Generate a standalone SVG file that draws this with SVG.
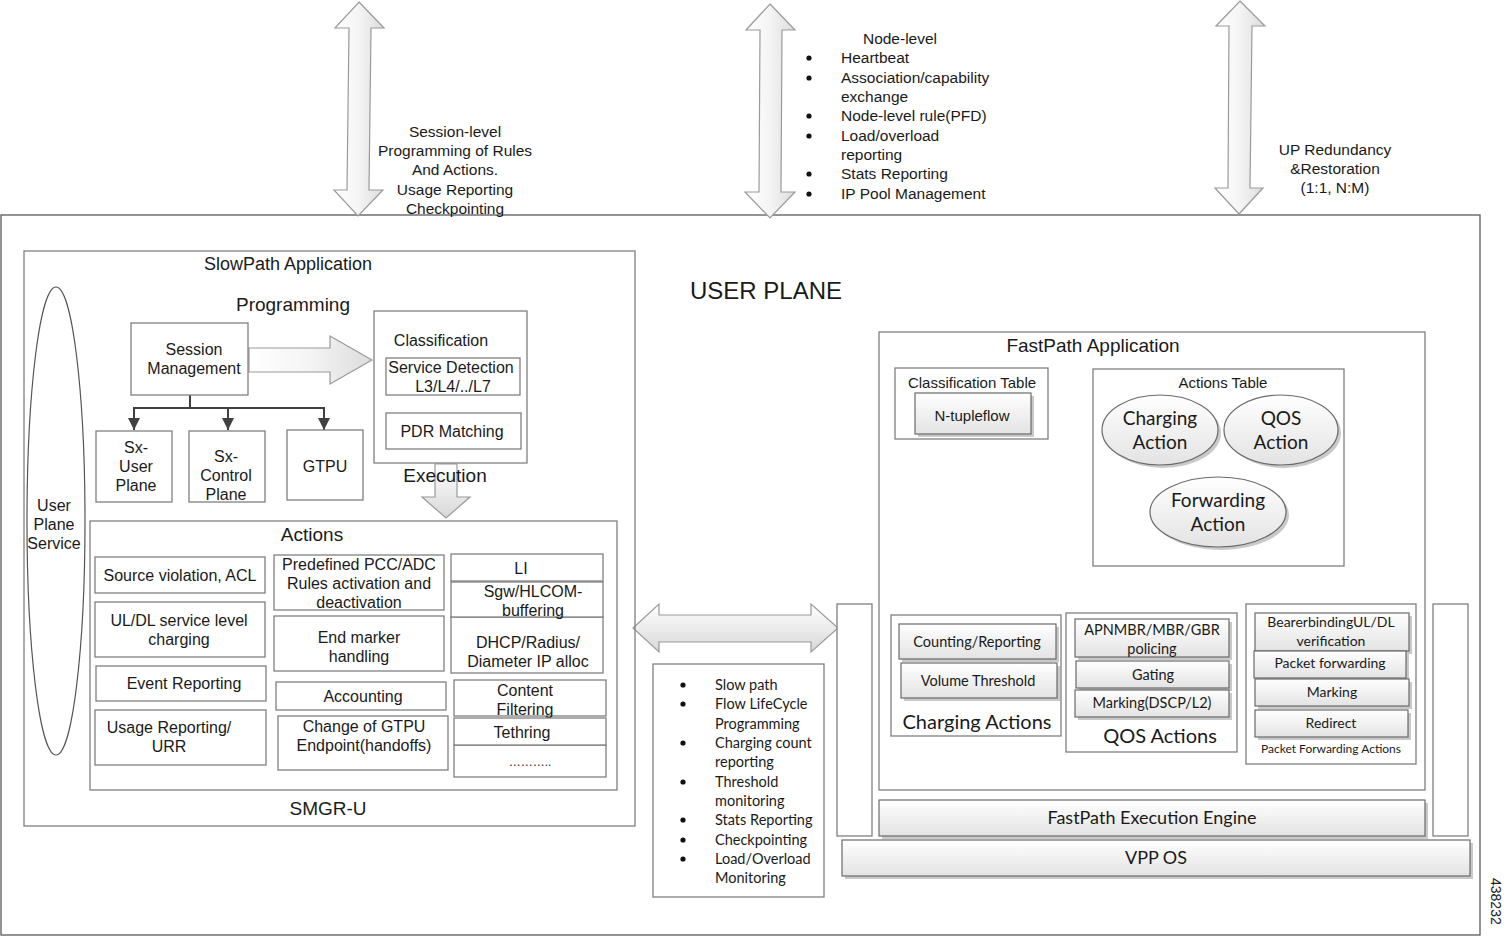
<svg xmlns="http://www.w3.org/2000/svg" width="1509" height="940" viewBox="0 0 1509 940">
<defs>
<linearGradient id="gv" x1="0" y1="0" x2="0" y2="1"><stop offset="0" stop-color="#ffffff"/><stop offset="1" stop-color="#e3e3e3"/></linearGradient>
<linearGradient id="gh" x1="0" y1="0" x2="1" y2="0"><stop offset="0" stop-color="#ffffff"/><stop offset="0.5" stop-color="#f4f4f4"/><stop offset="1" stop-color="#dcdcdc"/></linearGradient>
<linearGradient id="ga" x1="0" y1="0" x2="0" y2="1"><stop offset="0" stop-color="#ffffff"/><stop offset="1" stop-color="#d8d8d8"/></linearGradient>
<marker id="ah" viewBox="0 0 12 12" refX="12" refY="6" markerWidth="12" markerHeight="12" markerUnits="userSpaceOnUse" orient="auto"><path d="M0,0 L12,6 L0,12 Z" fill="#404040"/></marker>
<style>
.box{fill:#fff;stroke:#808080;stroke-width:1.3}
.obox{fill:#fff;stroke:#5a5a5a;stroke-width:1.3}
.gbox{fill:url(#gv);stroke:#6a6a6a;stroke-width:1.2}
.sh{fill:#c9c9c9}
.fat{fill:url(#gh);stroke:#9a9a9a;stroke-width:1.2}
.fatv{fill:url(#ga);stroke:#9a9a9a;stroke-width:1.2}
.t{font-family:"Liberation Sans",Arial,sans-serif;font-size:16px;fill:#1a1a1a;text-anchor:middle}
.tl{font-family:"Liberation Sans",Arial,sans-serif;font-size:15.5px;fill:#1a1a1a}
.c{font-family:Lato,"Open Sans",sans-serif;font-size:14.5px;fill:#1a1a1a;text-anchor:middle}
.cl{font-family:Lato,"Open Sans",sans-serif;font-size:14.5px;fill:#1a1a1a}
.bul{fill:#111}
.con{fill:none;stroke:#404040;stroke-width:2}
</style>
</defs>
<rect width="1509" height="940" fill="#fff"/>

<!-- outer user plane -->
<g id="user-plane">
<rect class="obox" x="1" y="215" width="1479" height="720"/>
<text class="t" x="766" y="299" style="font-size:24px">USER PLANE</text>
</g>

<!-- connectors -->
<g id="connectors">
<path class="con" d="M190,395 V408 H134 V430" marker-end="url(#ah)"/>
<path class="con" d="M190,408 H228 V430" marker-end="url(#ah)"/>
<path class="con" d="M190,408 H324 V430" marker-end="url(#ah)"/>
<path class="fat" d="M249,348 L330,348 L330,336 L372,360 L330,384 L330,372 L249,372 Z"/>
<path class="fatv" d="M435,464 L457,464 L457,497 L470,497 L446,518 L422,497 L435,497 Z"/>
<path class="fat" d="M359,2 L384,28 L371,28 L369,190 L383,190 L358,216 L334,190 L347,190 L349,28 L335,28 Z"/>
<path class="fat" d="M770,4 L795,30 L782,30 L781,192 L795,192 L770,218 L745,192 L759,192 L760,30 L746,30 Z"/>
<path class="fat" d="M1240,1 L1265,26 L1252,26 L1250,188 L1263,188 L1239,214 L1215,188 L1228,188 L1229,26 L1216,26 Z"/>
<path class="fatv" d="M633,628 L659,604 L659,615 L811,615 L811,604 L838,628 L811,652 L811,642 L659,642 L659,652 Z"/>
</g>

<!-- top texts -->
<g id="session-level-label">
<text class="t" x="455" y="137" style="font-size:15.5px">Session-level</text>
<text class="t" x="455" y="156" style="font-size:15.5px">Programming of Rules</text>
<text class="t" x="455" y="175" style="font-size:15.5px">And Actions.</text>
<text class="t" x="455" y="195" style="font-size:15.5px">Usage Reporting</text>
<text class="t" x="455" y="214" style="font-size:15.5px">Checkpointing</text>
</g>
<g id="node-level-label">
<text class="t" x="900" y="44" style="font-size:15.5px">Node-level</text>
<circle class="bul" cx="809" cy="58" r="2.6"/><text class="tl" x="841" y="63">Heartbeat</text>
<circle class="bul" cx="809" cy="78" r="2.6"/><text class="tl" x="841" y="83">Association/capability</text>
<text class="tl" x="841" y="102">exchange</text>
<circle class="bul" cx="809" cy="116" r="2.6"/><text class="tl" x="841" y="121">Node-level rule(PFD)</text>
<circle class="bul" cx="809" cy="136" r="2.6"/><text class="tl" x="841" y="141">Load/overload</text>
<text class="tl" x="841" y="160">reporting</text>
<circle class="bul" cx="809" cy="174" r="2.6"/><text class="tl" x="841" y="179">Stats Reporting</text>
<circle class="bul" cx="809" cy="194" r="2.6"/><text class="tl" x="841" y="199">IP Pool Management</text>
</g>
<g id="redundancy-label">
<text class="t" x="1335" y="155" style="font-size:15.5px">UP Redundancy</text>
<text class="t" x="1335" y="174" style="font-size:15.5px">&amp;Restoration</text>
<text class="t" x="1335" y="193" style="font-size:15.5px">(1:1, N:M)</text>
</g>

<!-- SlowPath -->
<g id="slowpath">
<rect class="box" x="24" y="251" width="611" height="575" fill-opacity="0"/>
<text class="t" x="288" y="270" style="font-size:18px">SlowPath Application</text>
<text class="t" x="293" y="311" style="font-size:19px">Programming</text>
<text class="t" x="328" y="815" style="font-size:19px">SMGR-U</text>
</g>
<g id="user-plane-service">
<ellipse cx="56" cy="521" rx="29" ry="234" fill="#fff" stroke="#555" stroke-width="1.2"/>
<text class="t" x="54" y="511">User</text>
<text class="t" x="54" y="530">Plane</text>
<text class="t" x="54" y="549">Service</text>
</g>
<g id="session-management">
<rect class="box" x="131" y="323" width="117" height="72"/>
<text class="t" x="194" y="355">Session</text>
<text class="t" x="194" y="374">Management</text>
</g>
<g id="sx-user-plane">
<rect class="box" x="96" y="431" width="76" height="71"/>
<text class="t" x="136" y="453">Sx-</text>
<text class="t" x="136" y="472">User</text>
<text class="t" x="136" y="491">Plane</text>
</g>
<g id="sx-control-plane">
<rect class="box" x="189" y="431" width="76" height="71"/>
<text class="t" x="226" y="462">Sx-</text>
<text class="t" x="226" y="481">Control</text>
<text class="t" x="226" y="500">Plane</text>
</g>
<g id="gtpu">
<rect class="box" x="287" y="430" width="76" height="70"/>
<text class="t" x="325" y="472">GTPU</text>
</g>
<g id="classification">
<rect class="box" x="374" y="311" width="153" height="152"/>
<text class="t" x="441" y="346">Classification</text>
<rect class="box" x="386" y="358" width="134" height="37"/>
<text class="t" x="451" y="373">Service Detection</text>
<text class="t" x="453" y="392">L3/L4/../L7</text>
<rect class="box" x="386" y="413" width="135" height="36"/>
<text class="t" x="452" y="437">PDR Matching</text>
</g>
<text class="t" x="445" y="482" style="font-size:19px">Execution</text>

<!-- Actions -->
<g id="actions">
<rect class="box" x="90" y="521" width="527" height="269"/>
<text class="t" x="312" y="541" style="font-size:19px">Actions</text>
</g>
<g id="source-violation"><rect class="box" x="95" y="557" width="170" height="36"/><text class="t" x="180" y="581">Source violation, ACL</text></g>
<g id="uldl-charging"><rect class="box" x="95" y="602" width="170" height="55"/><text class="t" x="179" y="626">UL/DL service level</text><text class="t" x="179" y="645">charging</text></g>
<g id="event-reporting"><rect class="box" x="96" y="666" width="170" height="35"/><text class="t" x="184" y="689">Event Reporting</text></g>
<g id="usage-reporting"><rect class="box" x="95" y="710" width="171" height="55"/><text class="t" x="169" y="733">Usage Reporting/</text><text class="t" x="169" y="752">URR</text></g>
<g id="predefined-pcc"><rect class="box" x="274" y="555" width="170" height="55"/><text class="t" x="359" y="570">Predefined PCC/ADC</text><text class="t" x="359" y="589">Rules activation and</text><text class="t" x="359" y="608">deactivation</text></g>
<g id="end-marker"><rect class="box" x="274" y="616" width="170" height="55"/><text class="t" x="359" y="643">End marker</text><text class="t" x="359" y="662">handling</text></g>
<g id="accounting"><rect class="box" x="276" y="682" width="170" height="28"/><text class="t" x="363" y="702">Accounting</text></g>
<g id="change-gtpu"><rect class="box" x="278" y="716" width="170" height="54"/><text class="t" x="364" y="732">Change of GTPU</text><text class="t" x="364" y="751">Endpoint(handoffs)</text></g>
<g id="dhcp"><rect class="box" x="451" y="617" width="152" height="56"/><text class="t" x="528" y="648">DHCP/Radius/</text><text class="t" x="528" y="667">Diameter IP alloc</text></g>
<g id="li"><rect class="box" x="451" y="554" width="152" height="27"/><text class="t" x="521" y="574">LI</text></g>
<g id="sgw-buffering"><rect class="box" x="451" y="582" width="152" height="35"/><text class="t" x="533" y="597">Sgw/HLCOM-</text><text class="t" x="533" y="616">buffering</text></g>
<g id="more"><rect class="box" x="454" y="745" width="152" height="32"/><text class="t" x="530" y="766" style="font-size:12px">………..</text></g>
<g id="content-filtering"><rect class="box" x="454" y="680" width="152" height="36"/><text class="t" x="525" y="696">Content</text><text class="t" x="525" y="715">Filtering</text></g>
<g id="tethring"><rect class="box" x="454" y="718" width="152" height="27"/><text class="t" x="522" y="738">Tethring</text></g>

<!-- middle list -->
<g id="interface-list">
<rect class="box" x="653" y="664" width="171" height="233"/>
<circle class="bul" cx="683" cy="685" r="2.6"/><text class="cl" x="715" y="690">Slow path</text>
<circle class="bul" cx="683" cy="704" r="2.6"/><text class="cl" x="715" y="709">Flow LifeCycle</text>
<text class="cl" x="715" y="729">Programming</text>
<circle class="bul" cx="683" cy="743" r="2.6"/><text class="cl" x="715" y="748">Charging count</text>
<text class="cl" x="715" y="767">reporting</text>
<circle class="bul" cx="683" cy="782" r="2.6"/><text class="cl" x="715" y="787">Threshold</text>
<text class="cl" x="715" y="806">monitoring</text>
<circle class="bul" cx="683" cy="820" r="2.6"/><text class="cl" x="715" y="825">Stats Reporting</text>
<circle class="bul" cx="683" cy="840" r="2.6"/><text class="cl" x="715" y="845">Checkpointing</text>
<circle class="bul" cx="683" cy="859" r="2.6"/><text class="cl" x="715" y="864">Load/Overload</text>
<text class="cl" x="715" y="883">Monitoring</text>
</g>

<!-- FastPath -->
<g id="fastpath">
<rect class="box" x="879" y="332" width="546" height="458"/>
<text class="t" x="1093" y="352" style="font-size:19px">FastPath Application</text>
</g>
<g id="left-bar"><rect class="box" x="837" y="604" width="35" height="232"/></g>
<g id="right-bar"><rect class="box" x="1433" y="604" width="35" height="232"/></g>
<g id="classification-table">
<rect class="box" x="895" y="368" width="153" height="71"/>
<text class="t" x="972" y="388" style="font-size:15px">Classification Table</text>
<rect class="sh" x="918" y="396" width="116" height="41"/>
<rect class="gbox" x="915" y="393" width="116" height="41"/>
<text class="t" x="972" y="421" style="font-size:15px">N-tupleflow</text>
</g>
<g id="actions-table">
<rect class="box" x="1093" y="369" width="251" height="197"/>
<text class="t" x="1223" y="388" style="font-size:15px">Actions Table</text>
</g>
<g id="charging-action">
<ellipse cx="1163" cy="433" rx="58" ry="35" class="sh"/>
<ellipse cx="1160" cy="430" rx="58" ry="35" class="gbox"/>
<text class="c" x="1160" y="425" style="font-size:19px">Charging</text>
<text class="c" x="1160" y="449" style="font-size:19px">Action</text>
</g>
<g id="qos-action">
<ellipse cx="1284" cy="433" rx="57" ry="35" class="sh"/>
<ellipse cx="1281" cy="430" rx="57" ry="35" class="gbox"/>
<text class="c" x="1281" y="425" style="font-size:19px">QOS</text>
<text class="c" x="1281" y="449" style="font-size:19px">Action</text>
</g>
<g id="forwarding-action">
<ellipse cx="1221" cy="515" rx="68" ry="35" class="sh"/>
<ellipse cx="1218" cy="512" rx="68" ry="35" class="gbox"/>
<text class="c" x="1218" y="507" style="font-size:19px">Forwarding</text>
<text class="c" x="1218" y="531" style="font-size:19px">Action</text>
</g>
<g id="charging-actions">
<rect class="box" x="891" y="615" width="170" height="121"/>
<rect class="sh" x="902" y="627" width="157" height="35"/><rect class="gbox" x="899" y="624" width="157" height="35"/>
<text class="c" x="977" y="647">Counting/Reporting</text>
<rect class="sh" x="904" y="666" width="156" height="35"/><rect class="gbox" x="901" y="663" width="156" height="35"/>
<text class="c" x="978" y="686">Volume Threshold</text>
<text class="c" x="977" y="729" style="font-size:20px">Charging Actions</text>
</g>
<g id="qos-actions">
<rect class="box" x="1066" y="613" width="171" height="139"/>
<rect class="sh" x="1078" y="622" width="154" height="38"/><rect class="gbox" x="1075" y="619" width="154" height="38"/>
<text class="c" x="1152" y="635">APNMBR/MBR/GBR</text>
<text class="c" x="1152" y="654">policing</text>
<rect class="sh" x="1079" y="664" width="153" height="27"/><rect class="gbox" x="1076" y="661" width="153" height="27"/>
<text class="c" x="1153" y="680">Gating</text>
<rect class="sh" x="1078" y="693" width="154" height="27"/><rect class="gbox" x="1075" y="690" width="154" height="27"/>
<text class="c" x="1152" y="708">Marking(DSCP/L2)</text>
<text class="c" x="1160" y="743" style="font-size:20px">QOS Actions</text>
</g>
<g id="packet-forwarding-actions">
<rect class="box" x="1246" y="604" width="170" height="160"/>
<rect class="sh" x="1258" y="616" width="154" height="38"/><rect class="gbox" x="1255" y="613" width="154" height="38"/>
<text class="c" x="1331" y="627" style="font-size:14px">BearerbindingUL/DL</text>
<text class="c" x="1331" y="646" style="font-size:14px">verification</text>
<rect class="sh" x="1257" y="654" width="152" height="27"/><rect class="gbox" x="1254" y="651" width="152" height="27"/>
<text class="c" x="1330" y="668" style="font-size:14px">Packet forwarding</text>
<rect class="sh" x="1258" y="682" width="154" height="27"/><rect class="gbox" x="1255" y="679" width="154" height="27"/>
<text class="c" x="1332" y="697" style="font-size:14px">Marking</text>
<rect class="sh" x="1258" y="713" width="153" height="27"/><rect class="gbox" x="1255" y="710" width="153" height="27"/>
<text class="c" x="1331" y="728" style="font-size:14px">Redirect</text>
<text class="c" x="1331" y="753" style="font-size:12px">Packet Forwarding Actions</text>
</g>
<g id="fastpath-engine">
<rect class="sh" x="882" y="803" width="546" height="36"/>
<rect class="gbox" x="879" y="800" width="546" height="36"/>
<text class="c" x="1152" y="824" style="font-size:18px">FastPath Execution Engine</text>
</g>
<g id="vpp-os">
<rect class="sh" x="845" y="843" width="628" height="36"/>
<rect class="gbox" x="842" y="840" width="628" height="36"/>
<text class="c" x="1156" y="864" style="font-size:18px">VPP OS</text>
</g>

<text x="1495" y="878" transform="rotate(90 1495 878)" style="font-family:'Liberation Sans',Arial,sans-serif;font-size:14px;fill:#222" dy="4">438232</text>
</svg>
